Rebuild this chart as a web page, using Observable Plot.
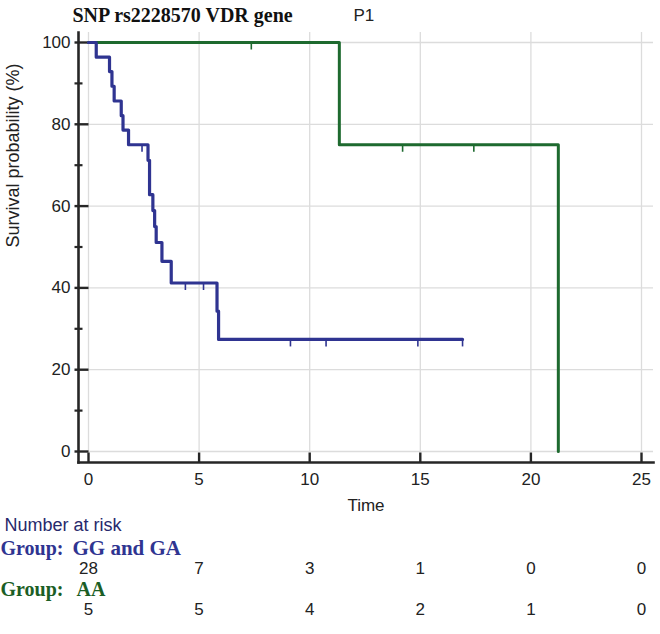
<!DOCTYPE html>
<html>
<head>
<meta charset="utf-8">
<script src="https://cdn.jsdelivr.net/npm/d3@7"></script>
<script src="https://cdn.jsdelivr.net/npm/@observablehq/plot@0.6"></script>
<style>
  html, body { margin: 0; padding: 0; background: #fff; }
  #chart { width: 660px; height: 634px; }
</style>
</head>
<body>
<div id="chart"></div>
<script>
// ---- data ----
const titleText = "SNP rs2228570 VDR gene";
const panelText = "P1";
const groupNames = ["GG and GA", "AA"];

// Kaplan-Meier step curve, group GG and GA
const ggTimes = [0, 0.35, 0.95, 1.06, 1.16, 1.48, 1.56, 1.81, 2.69, 2.76, 2.91, 2.99, 3.06, 3.32, 3.74, 5.81, 5.88, 16.91];
const ggSurv  = [100, 96.4, 92.9, 89.3, 85.7, 82.1, 78.6, 75.0, 71.2, 62.8, 58.9, 55.0, 51.1, 46.5, 41.2, 34.3, 27.4, 27.4];
// censored observations, group GG and GA
const ggCensTimes = [2.42, 4.38, 5.2, 9.13, 10.74, 14.89, 16.91];
const ggCensSurv  = [75.0, 41.2, 41.2, 27.4, 27.4, 27.4, 27.4];

// Kaplan-Meier step curve, group AA
const aaTimes = [0, 11.34, 21.24];
const aaSurv  = [100, 75, 0];
const aaCensTimes = [7.36, 14.2, 17.42];
const aaCensSurv  = [100, 75, 75];

// axes
const xTicks = [0, 5, 10, 15, 20, 25];
const yTicks = [0, 20, 40, 60, 80, 100];
const yMinorTicks = [10, 30, 50, 70, 90];

// number at risk
const riskTimes = [0, 5, 10, 15, 20, 25];
const riskGG = [28, 7, 3, 1, 0, 0];
const riskAA = [5, 5, 4, 2, 1, 0];

// ---- build tables ----
const ggLine = ggTimes.map((t, i) => ({t, s: ggSurv[i]}));
const aaLine = aaTimes.map((t, i) => ({t, s: aaSurv[i]}));
const ggCens = ggCensTimes.map((t, i) => ({t, s: ggCensSurv[i]}));
const aaCens = aaCensTimes.map((t, i) => ({t, s: aaCensSurv[i]}));

const BLUE = "#2f3491";
const GREEN = "#1e6a2f";
const AXIS = "#262626";
const GRID = "#dcdcdc";

const censorMark = {draw(ctx) { ctx.moveTo(0, 0); ctx.lineTo(0, 7); }};
const yMajorMark = {draw(ctx) { ctx.moveTo(-4, 0); ctx.lineTo(10, 0); }};
const yMinorMark = {draw(ctx) { ctx.moveTo(-4, 0); ctx.lineTo(4, 0); }};
const xMajorMark = {draw(ctx) { ctx.moveTo(0, 0); ctx.lineTo(0, -10); }};

const serif = "Liberation Serif, Times New Roman, serif";
const sans = "Liberation Sans, Arial, sans-serif";
const T = {lineAnchor: "middle"};

const plot = Plot.plot({
  width: 660,
  height: 634,
  marginTop: 32,
  marginBottom: 172,
  marginLeft: 78,
  marginRight: 7,
  style: {background: "#fff", fontFamily: sans, fontSize: "17px", overflow: "visible"},
  x: {domain: [0, 25], insetLeft: 10, insetRight: 12, axis: null},
  y: {domain: [0, 100], insetTop: 10, insetBottom: 11, axis: null},
  marks: [
    // grid
    Plot.ruleX(xTicks, {x: d => d, stroke: GRID, strokeWidth: 1.3, insetBottom: 11}),
    Plot.ruleY(yTicks, {y: d => d, stroke: GRID, strokeWidth: 1.3, insetLeft: 10}),
    // axis lines
    Plot.frame({anchor: "left", stroke: AXIS, strokeWidth: 2.6}),
    Plot.frame({anchor: "bottom", stroke: AXIS, strokeWidth: 2.6}),
    // ticks
    Plot.dot(yTicks, {y: d => d, frameAnchor: "left", symbol: yMajorMark, stroke: AXIS, fill: "none", strokeWidth: 2.4}),
    Plot.dot(yMinorTicks, {y: d => d, frameAnchor: "left", symbol: yMinorMark, stroke: AXIS, fill: "none", strokeWidth: 2.2}),
    Plot.dot(xTicks, {x: d => d, frameAnchor: "bottom", symbol: xMajorMark, stroke: AXIS, fill: "none", strokeWidth: 2.4}),
    // tick labels
    Plot.text(yTicks, {...T, y: d => d, text: d => String(d), frameAnchor: "left", dx: -8, textAnchor: "end", fill: "#222", fontSize: 17}),
    Plot.text(xTicks, {...T, x: d => d, text: d => String(d), frameAnchor: "bottom", dy: 17, fill: "#222", fontSize: 17}),
    // axis titles
    Plot.text(["Time"], {...T, text: d => d, frameAnchor: "bottom", dy: 43, fill: "#222", fontSize: 17}),
    Plot.text(["Survival probability (%)"], {...T, text: d => d, frameAnchor: "left", dx: -65, rotate: -90, fill: "#222", fontSize: 18}),
    // title
    Plot.text([titleText], {...T, text: d => d, frameAnchor: "top-left", dx: -6, dy: -17, textAnchor: "start", fontFamily: serif, fontWeight: "bold", fontSize: 20, fill: "#111"}),
    Plot.text([panelText], {...T, text: d => d, frameAnchor: "top-left", dx: 275, dy: -17, textAnchor: "start", fontSize: 17, fill: "#222"}),
    // survival curves
    Plot.line(aaLine, {x: "t", y: "s", curve: "step-after", stroke: GREEN, strokeWidth: 3}),
    Plot.line(ggLine, {x: "t", y: "s", curve: "step-after", stroke: BLUE, strokeWidth: 3.2}),
    Plot.dot(aaCens, {x: "t", y: "s", symbol: censorMark, stroke: GREEN, fill: "none", strokeWidth: 1.6}),
    Plot.dot(ggCens, {x: "t", y: "s", symbol: censorMark, stroke: BLUE, fill: "none", strokeWidth: 1.6}),
    // number at risk
    Plot.text(["Number at risk"], {...T, text: d => d, frameAnchor: "bottom-left", dx: -74, dy: 63, textAnchor: "start", fill: "#27296c", fontSize: 18}),
    Plot.text(["Group:"], {...T, text: d => d, frameAnchor: "bottom-left", dx: -78, dy: 86, textAnchor: "start", fontFamily: serif, fontWeight: "bold", fontSize: 20, fill: BLUE}),
    Plot.text([groupNames[0]], {...T, text: d => d, frameAnchor: "bottom-left", dx: -6, dy: 86, textAnchor: "start", fontFamily: serif, fontWeight: "bold", fontSize: 21, fill: BLUE}),
    Plot.text(riskTimes, {...T, x: d => d, text: (d, i) => String(riskGG[i]), frameAnchor: "bottom", dy: 106, fill: "#222", fontSize: 17}),
    Plot.text(["Group:"], {...T, text: d => d, frameAnchor: "bottom-left", dx: -78, dy: 127, textAnchor: "start", fontFamily: serif, fontWeight: "bold", fontSize: 20, fill: "#1b5e25"}),
    Plot.text([groupNames[1]], {...T, text: d => d, frameAnchor: "bottom-left", dx: -2, dy: 127, textAnchor: "start", fontFamily: serif, fontWeight: "bold", fontSize: 20, fill: "#1b5e25"}),
    Plot.text(riskTimes, {...T, x: d => d, text: (d, i) => String(riskAA[i]), frameAnchor: "bottom", dy: 147, fill: "#222", fontSize: 17})
  ]
});
document.getElementById("chart").appendChild(plot);
</script>
</body>
</html>
